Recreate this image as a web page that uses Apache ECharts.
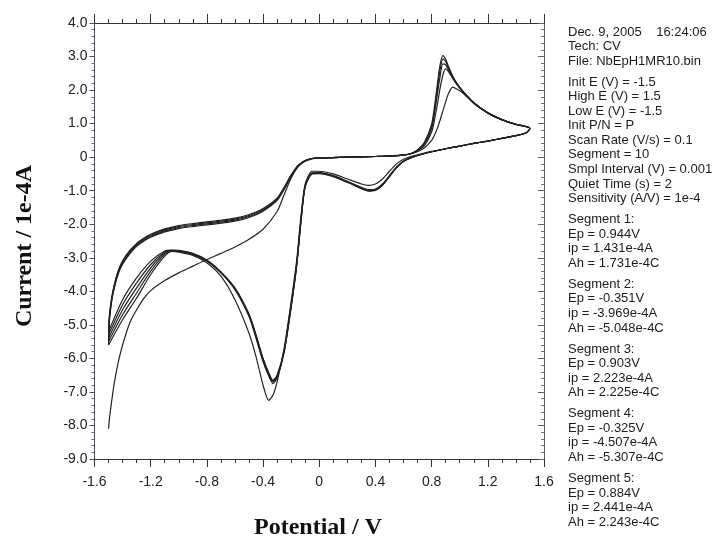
<!DOCTYPE html>
<html>
<head>
<meta charset="utf-8">
<script src="https://cdn.jsdelivr.net/npm/echarts@6/dist/echarts.min.js"></script>
<style>
  html, body { margin: 0; padding: 0; background: #ffffff; }
  #chart { width: 717px; height: 542px; }
</style>
</head>
<body>
<div id="chart"></div>
<script>
// Potential grid (V) for the anodic (positive-going) sweeps
const posE = [-1.5, -1.495, -1.48, -1.46, -1.43, -1.4, -1.35, -1.3, -1.25, -1.2, -1.1, -1.0, -0.9, -0.8, -0.7, -0.6, -0.5, -0.4, -0.3, -0.25, -0.2, -0.15, -0.1, -0.05, 0, 0.2, 0.4, 0.5, 0.6, 0.65, 0.7, 0.75, 0.8, 0.82, 0.84, 0.86, 0.88, 0.9, 0.92, 0.95, 0.98, 1.02, 1.1, 1.2, 1.3, 1.4, 1.5];
// Potential grid (V) for the cathodic (negative-going) sweeps
const negE = [1.48, 1.45, 1.4, 1.3, 1.2, 1.1, 1.0, 0.9, 0.8, 0.7, 0.65, 0.6, 0.55, 0.5, 0.45, 0.4, 0.35, 0.3, 0.2, 0.1, 0, -0.05, -0.1, -0.13, -0.16, -0.2, -0.25, -0.3, -0.33, -0.36, -0.4, -0.45, -0.5, -0.6, -0.7, -0.8, -0.9, -1.0, -1.05, -1.1, -1.2, -1.3, -1.4, -1.5];

// Current (1e-4 A) for each segment
const seg1 = [-8.1, -7.85, -7.35, -6.75, -6.1, -5.6, -4.95, -4.55, -4.22, -3.98, -3.68, -3.45, -3.25, -3.05, -2.87, -2.68, -2.45, -2.15, -1.62, -1.12, -0.62, -0.28, -0.12, -0.05, -0.02, 0.0, 0.02, 0.04, 0.07, 0.1, 0.16, 0.28, 0.5, 0.65, 0.85, 1.1, 1.38, 1.65, 1.9, 2.09, 2.03, 1.92, 1.6, 1.31, 1.11, 0.97, 0.86];
const seg2 = [0.74, 0.69, 0.64, 0.56, 0.48, 0.41, 0.33, 0.25, 0.17, 0.07, 0.02, -0.06, -0.2, -0.42, -0.65, -0.8, -0.84, -0.8, -0.65, -0.5, -0.42, -0.42, -0.8, -1.75, -3.05, -4.3, -5.7, -6.7, -7.1, -7.25, -6.8, -5.95, -5.25, -4.25, -3.55, -3.15, -2.93, -2.83, -2.81, -2.95, -3.5, -4.2, -4.85, -5.6];
const seg3 = [-5.6, -4.95, -4.36, -3.92, -3.47, -3.19, -2.89, -2.66, -2.51, -2.39, -2.23, -2.13, -2.07, -2.02, -1.97, -1.91, -1.8, -1.61, -1.29, -0.96, -0.58, -0.27, -0.11, -0.04, -0.02, 0.0, 0.02, 0.03, 0.06, 0.1, 0.19, 0.35, 0.75, 1.1, 1.55, 2.05, 2.45, 2.63, 2.55, 2.35, 2.17, 1.96, 1.62, 1.32, 1.12, 0.98, 0.86];
const seg4 = [0.74, 0.69, 0.64, 0.56, 0.48, 0.41, 0.33, 0.25, 0.16, 0.05, -0.02, -0.12, -0.3, -0.55, -0.8, -0.95, -0.97, -0.9, -0.72, -0.55, -0.46, -0.47, -0.85, -1.92, -3.22, -4.48, -5.82, -6.58, -6.75, -6.52, -6.1, -5.4, -4.75, -3.95, -3.45, -3.1, -2.9, -2.81, -2.8, -2.9, -3.4, -4.05, -4.7, -5.5];
const seg5 = [-5.5, -4.88, -4.32, -3.88, -3.43, -3.15, -2.85, -2.63, -2.48, -2.36, -2.2, -2.1, -2.04, -1.99, -1.94, -1.88, -1.77, -1.59, -1.27, -0.94, -0.56, -0.26, -0.1, -0.04, -0.02, 0.0, 0.02, 0.03, 0.06, 0.1, 0.2, 0.4, 0.85, 1.3, 1.85, 2.4, 2.78, 2.75, 2.6, 2.38, 2.18, 1.97, 1.62, 1.32, 1.12, 0.98, 0.86];
const seg6 = [0.74, 0.69, 0.64, 0.56, 0.48, 0.41, 0.33, 0.25, 0.16, 0.05, -0.02, -0.12, -0.3, -0.56, -0.82, -0.97, -0.99, -0.92, -0.73, -0.56, -0.47, -0.48, -0.86, -1.9, -3.2, -4.45, -5.8, -6.55, -6.7, -6.48, -6.05, -5.35, -4.72, -3.93, -3.44, -3.09, -2.89, -2.8, -2.79, -2.86, -3.3, -3.9, -4.55, -5.4];
const seg7 = [-5.4, -4.82, -4.29, -3.85, -3.4, -3.12, -2.82, -2.6, -2.45, -2.33, -2.17, -2.07, -2.01, -1.96, -1.91, -1.85, -1.74, -1.56, -1.25, -0.92, -0.55, -0.25, -0.1, -0.04, -0.02, 0.0, 0.02, 0.03, 0.06, 0.1, 0.21, 0.42, 0.92, 1.4, 2.0, 2.6, 2.93, 2.85, 2.65, 2.4, 2.19, 1.97, 1.62, 1.32, 1.12, 0.98, 0.86];
const seg8 = [0.74, 0.69, 0.64, 0.56, 0.48, 0.41, 0.33, 0.25, 0.16, 0.05, -0.02, -0.12, -0.31, -0.57, -0.83, -0.98, -1.0, -0.93, -0.74, -0.57, -0.48, -0.49, -0.87, -1.88, -3.18, -4.42, -5.78, -6.52, -6.68, -6.45, -6.02, -5.32, -4.7, -3.92, -3.43, -3.08, -2.88, -2.79, -2.78, -2.83, -3.2, -3.75, -4.4, -5.3];
const seg9 = [-5.3, -4.76, -4.25, -3.81, -3.37, -3.09, -2.79, -2.57, -2.42, -2.3, -2.14, -2.04, -1.98, -1.93, -1.88, -1.82, -1.71, -1.53, -1.22, -0.9, -0.53, -0.24, -0.1, -0.04, -0.02, 0.0, 0.02, 0.03, 0.06, 0.1, 0.22, 0.45, 0.98, 1.5, 2.15, 2.75, 3.03, 2.92, 2.7, 2.42, 2.2, 1.98, 1.62, 1.32, 1.12, 0.98, 0.86];
const seg10 = [0.74, 0.69, 0.64, 0.56, 0.48, 0.41, 0.33, 0.25, 0.16, 0.05, -0.02, -0.12, -0.31, -0.58, -0.84, -0.99, -1.01, -0.94, -0.75, -0.58, -0.49, -0.5, -0.88, -1.86, -3.15, -4.4, -5.75, -6.5, -6.65, -6.42, -6.0, -5.3, -4.68, -3.9, -3.42, -3.07, -2.87, -2.78, -2.77, -2.8, -3.1, -3.6, -4.25, -5.2];

// Each cycle = one anodic sweep followed by one cathodic sweep
const cycles = [[seg1, seg2], [seg3, seg4], [seg5, seg6], [seg7, seg8], [seg9, seg10]];

// Axis ticks
const xTicks = [-1.6, -1.2, -0.8, -0.4, 0, 0.4, 0.8, 1.2, 1.6];
const yTicks = [4, 3, 2, 1, 0, -1, -2, -3, -4, -5, -6, -7, -8, -9];

// Axis titles
const xTitle = 'Potential / V';
const yTitle = 'Current / 1e-4A';

// Instrument header and peak report
const infoHeader = ['Dec. 9, 2005    16:24:06', 'Tech: CV', 'File: NbEpH1MR10.bin'];
const infoParams = ['Init E (V) = -1.5', 'High E (V) = 1.5', 'Low E (V) = -1.5', 'Init P/N = P', 'Scan Rate (V/s) = 0.1', 'Segment = 10', 'Smpl Interval (V) = 0.001', 'Quiet Time (s) = 2', 'Sensitivity (A/V) = 1e-4'];
const segNames = ['Segment 1:', 'Segment 2:', 'Segment 3:', 'Segment 4:', 'Segment 5:'];
const segEp = ['0.944V', '-0.351V', '0.903V', '-0.325V', '0.884V'];
const segIp = ['1.431e-4A', '-3.969e-4A', '2.223e-4A', '-4.507e-4A', '2.441e-4A'];
const segAh = ['1.731e-4C', '-5.048e-4C', '2.225e-4C', '-5.307e-4C', '2.243e-4C'];

const fmt = v => (Math.abs(v) < 1e-9 ? '0' : v.toFixed(1));

const chart = echarts.init(document.getElementById('chart'), null, { renderer: 'canvas' });

const series = cycles.map(([pos, neg], k) => ({
  type: 'line',
  name: 'cycle ' + (k + 1),
  xAxisIndex: 0,
  yAxisIndex: 0,
  showSymbol: false,
  smooth: 0.25,
  animation: false,
  lineStyle: { width: 1.2, color: '#222222' },
  data: posE.map((e, i) => [e, pos[i]]).concat(negE.map((e, i) => [e, neg[i]]))
}));

// Right-hand text block
const blocks = [infoHeader, infoParams];
segNames.forEach((n, i) => blocks.push([n, 'Ep = ' + segEp[i], 'ip = ' + segIp[i], 'Ah = ' + segAh[i]]));
const textEls = [];
let ty = 33;
blocks.forEach((blk, b) => {
  if (b > 0) ty += 6.5;
  blk.forEach(line => {
    textEls.push({
      type: 'text', left: 568, top: ty - 7.5, silent: true,
      style: { text: line, font: '13px "Liberation Sans", Arial, sans-serif', fill: '#1c1c1c' }
    });
    ty += 14.55;
  });
});

// Axis titles (bold serif)
const titleFontCss = 'bold 24px "Liberation Serif", "Times New Roman", serif';
textEls.push({
  type: 'text', silent: true, x: 25, y: 246, rotation: Math.PI / 2,
  style: { text: yTitle, align: 'center', verticalAlign: 'middle', font: titleFontCss, fill: '#111' }
});
textEls.push({
  type: 'text', silent: true, x: 318, y: 528,
  style: { text: xTitle, align: 'center', verticalAlign: 'middle', font: titleFontCss, fill: '#111' }
});

const axisColor = '#333';

chart.setOption({
  backgroundColor: '#ffffff',
  animation: false,
  grid: { left: 94.5, right: 173, top: 23, bottom: 83, containLabel: false, outerBoundsMode: 'none' },
  xAxis: [
    {
      type: 'value', position: 'bottom', min: xTicks[0], max: xTicks[xTicks.length - 1], interval: 0.4,
      axisLine: { show: true, onZero: false, lineStyle: { color: axisColor, width: 1 } },
      axisTick: { show: true, inside: false, length: 8, lineStyle: { color: axisColor } },
      minorTick: { show: true, splitNumber: 4, length: 4, lineStyle: { color: axisColor } },
      splitLine: { show: false },
      axisLabel: { margin: 16, fontSize: 14, fontFamily: '"Liberation Sans", Arial, sans-serif', color: '#222', formatter: fmt }
    },
    {
      type: 'value', position: 'top', min: xTicks[0], max: xTicks[xTicks.length - 1], interval: 0.4,
      axisLine: { show: true, onZero: false, lineStyle: { color: axisColor, width: 1 } },
      axisTick: { show: true, inside: false, length: 9, lineStyle: { color: axisColor } },
      minorTick: { show: true, splitNumber: 4, length: 4, lineStyle: { color: axisColor } },
      splitLine: { show: false },
      axisLabel: { show: false }
    }
  ],
  yAxis: [
    {
      type: 'value', position: 'left', min: yTicks[yTicks.length - 1], max: yTicks[0], interval: 1,
      axisLine: { show: true, onZero: false, lineStyle: { color: '#4a4a66', width: 1 } },
      axisTick: { show: true, inside: false, length: 5, lineStyle: { color: '#4a4a66' } },
      minorTick: { show: true, splitNumber: 5, length: 3, lineStyle: { color: '#6a6a88' } },
      splitLine: { show: false },
      axisLabel: { margin: 7, fontSize: 14, fontFamily: '"Liberation Sans", Arial, sans-serif', color: '#222', formatter: fmt }
    },
    {
      type: 'value', position: 'right', min: yTicks[yTicks.length - 1], max: yTicks[0], interval: 1,
      axisLine: { show: true, onZero: false, lineStyle: { color: '#6e5878', width: 1 } },
      axisTick: { show: true, inside: true, length: 6, lineStyle: { color: '#6e5878' } },
      minorTick: { show: true, splitNumber: 5, length: 3, lineStyle: { color: '#7e6888' } },
      splitLine: { show: false },
      axisLabel: { show: false }
    }
  ],
  series: series,
  graphic: textEls
});
</script>
</body>
</html>
